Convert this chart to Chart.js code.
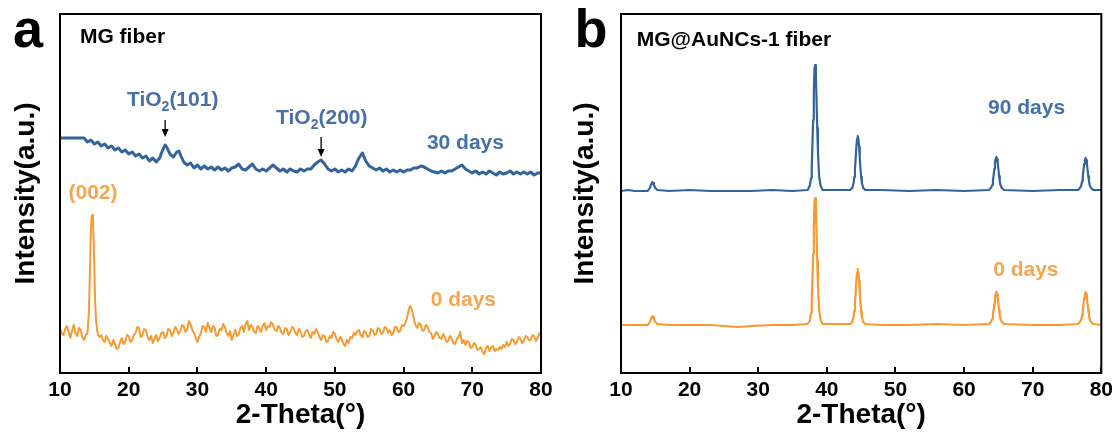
<!DOCTYPE html>
<html><head><meta charset="utf-8">
<script src="https://cdn.jsdelivr.net/npm/chart.js@4.4.0/dist/chart.umd.min.js"></script>
<style>
html,body{margin:0;padding:0;background:#fff;width:1118px;height:436px;overflow:hidden}
.p{position:absolute;top:0;width:559px;height:436px}
</style></head><body>
<div class="p" style="left:0"><canvas id="ca" width="559" height="436"></canvas></div>
<div class="p" style="left:559px"><canvas id="cb" width="559" height="436"></canvas></div>
<script>
// ---------- data (2-Theta in degrees, intensity in arbitrary units) ----------
const xTickValues = [10, 20, 30, 40, 50, 60, 70, 80];

// panel a, MG fiber, 30 days
const aTheta30 = [10,13.5,14,14.5,15,15.5,16,16.5,17,17.5,18,18.5,19,19.5,20,20.5,21,21.5,22,22.5,23,23.5,24,24.5,25,25.3,25.6,26,26.5,27,27.3,27.6,28,28.5,29,29.5,30,30.5,31,31.5,32,32.5,33,33.5,34,34.5,35,35.5,36,36.5,37,37.5,38,38.5,39,39.5,40,40.5,41,41.5,42,42.5,43,43.5,44,44.5,45,45.5,46,46.5,47,47.5,48,48.5,49,49.5,50,50.5,51,51.5,52,52.5,53,53.5,54,54.5,55,55.5,56,56.5,57,57.5,58,58.5,59,59.5,60,60.5,61,61.5,62,62.5,63,63.5,64,64.5,65,65.5,66,66.5,67,67.5,68,68.5,69,69.5,70,70.5,71,71.5,72,72.5,73,73.5,74,74.5,75,75.5,76,76.5,77,77.5,78,78.5,79,79.5,80];
const aInt30 = [235,235,231,233,229,231,227,229,225,227,223,225,221,223,219,221,217,219,215,217,212,215,211,215,224,228,225,219,216,221,222,217,211,208,210,205,208,204,207,204,206,203,206,203,205,202,205,206,209,204,203,206,209,204,202,204,202,205,208,205,202,204,201,204,202,201,204,202,204,204,208,211,213,209,204,202,204,201,203,201,204,202,207,215,220,212,207,205,203,205,202,204,201,203,201,203,201,203,203,205,205,207,206,204,202,201,200,202,200,202,202,204,206,208,204,202,200,202,199,201,199,202,200,198,201,199,200,202,199,201,199,201,199,201,198,200,200,199,199];

// panel a, MG fiber, 0 days
const aTheta0 = [
  10,10.25,10.5,10.75, 11,11.25,11.5,11.75, 12,12.25,12.5,12.75, 13,13.25,13.5,13.75,
  14,14.2,14.35,14.5,14.6,14.7,14.8,14.9,15,15.1,15.25,15.4,15.55,15.75,
  16,16.25,16.5,16.75, 17,17.25,17.5,17.75, 18,18.25,18.5,18.75, 19,19.25,19.5,19.75,
  20,20.25,20.5,20.75, 21,21.25,21.5,21.75, 22,22.25,22.5,22.75, 23,23.25,23.5,23.75,
  24,24.25,24.5,24.75, 25,25.25,25.5,25.75, 26,26.25,26.5,26.75, 27,27.25,27.5,27.75,
  28,28.25,28.5,28.75, 29,29.25,29.5,29.75, 30,30.25,30.5,30.75, 31,31.25,31.5,31.75,
  32,32.25,32.5,32.75, 33,33.25,33.5,33.75, 34,34.25,34.5,34.75, 35,35.25,35.5,35.75,
  36,36.25,36.5,36.75, 37,37.25,37.5,37.75, 38,38.25,38.5,38.75, 39,39.25,39.5,39.75,
  40,40.25,40.5,40.75, 41,41.25,41.5,41.75, 42,42.25,42.5,42.75, 43,43.25,43.5,43.75,
  44,44.25,44.5,44.75, 45,45.25,45.5,45.75, 46,46.25,46.5,46.75, 47,47.25,47.5,47.75,
  48,48.25,48.5,48.75, 49,49.25,49.5,49.75, 50,50.25,50.5,50.75, 51,51.25,51.5,51.75,
  52,52.25,52.5,52.75, 53,53.25,53.5,53.75, 54,54.25,54.5,54.75, 55,55.25,55.5,55.75,
  56,56.25,56.5,56.75, 57,57.25,57.5,57.75, 58,58.25,58.5,58.75, 59,59.25,59.5,59.75,
  60,60.25,60.5,60.8,61,61.3,61.6,61.8,62,62.25,62.5,62.75,
  63,63.25,63.5,63.75, 64,64.25,64.5,64.75, 65,65.25,65.5,65.75, 66,66.25,66.5,66.75,
  67,67.25,67.5,67.75, 68,68.25,68.5,68.75, 69,69.25,69.5,69.75, 70,70.25,70.5,70.75,
  71,71.25,71.5,71.75, 72,72.25,72.5,72.75, 73,73.25,73.5,73.75, 74,74.25,74.5,74.75,
  75,75.25,75.5,75.75, 76,76.25,76.5,76.75, 77,77.25,77.5,77.75, 78,78.25,78.5,78.75,
  79,79.25,79.5,79.75, 80];
const aInt0 = [
  45,40,38,44, 47,41,35,42, 48,40,37,45, 43,36,33,38,
  40,60,100,143,156,158,150,133,105,73,52,43,38,36,
  38,33,31,37, 34,30,27,33, 29,24,25,31, 35,29,31,38,
  37,31,33,38, 40,46,45,36, 38,44,43,36, 33,37,30,34,
  38,32,35,40, 41,35,37,44, 43,37,40,46, 44,39,42,48,
  47,41,43,52, 49,43,40,35, 31,36,40,47, 46,41,50,45,
  41,47,45,37, 38,44,43,49, 46,40,37,42, 33,38,43,37,
  39,45,47,41, 49,52,43,48, 46,41,40,47, 45,41,47,50,
  43,47,46,51, 48,43,42,47, 45,40,39,45, 44,38,41,46,
  45,40,38,44, 42,36,37,42, 43,38,35,41, 39,44,41,36,
  33,38,37,31, 32,37,35,41, 39,34,31,36, 34,29,27,33,
  30,36,35,40, 38,42,43,38, 36,42,41,36, 37,44,43,38,
  39,45,44,39, 40,46,45,40, 43,38,40,46, 46,41,42,48,
  47,50,55,65,67,61,51,47,45,50,48,42,
  43,48,46,41, 40,34,37,41, 39,35,34,39, 36,31,32,37,
  34,30,29,34, 36,41,30,33, 28,32,31,25, 26,30,28,23,
  24,26,21,19, 25,27,22,26, 27,22,24,23, 26,24,28,26,
  31,27,29,34, 33,29,31,36, 34,30,32,37, 36,33,33,38,
  37,32,35,40, 38];

// panel b, MG@AuNCs-1 fiber (shared 2-Theta grid)
const bTheta = [10,11,12,13,13.9,14.2,14.4,14.5,14.6,14.7,14.8,15,15.3,17,20,23,25,27,29,32,35,
  37.2,37.5,37.7,37.8,37.9,38,38.1,38.2,38.3,38.4,38.5,38.6,38.7,38.8,38.9,39.1,39.4,41,
  43.4,43.7,43.9,44,44.1,44.2,44.3,44.4,44.5,44.6,44.7,44.8,44.9,45,45.1,45.3,45.6,48,52,56,60,
  63.6,63.9,64.1,64.2,64.3,64.4,64.5,64.6,64.7,64.8,64.9,65,65.1,65.2,65.3,65.5,65.8,70,74,
  76.6,76.9,77.1,77.2,77.3,77.4,77.5,77.6,77.7,77.8,77.9,78,78.1,78.2,78.3,78.5,78.8,80];
const bInt90 = [182,183,182,182,182,185,189,190,191,190,188,185,183,182,183,182,182,182,182,183,182,
  183,187,195,206,229,253,280,305,308,297,272,245,222,206,195,187,183,183,
  183,185,190,196,204,215,226,234,237,234,226,215,204,196,190,185,183,183,182,183,182,
  183,185,188,192,197,204,210,214,216,214,210,204,197,192,188,185,183,182,183,
  183,185,188,192,197,203,209,213,215,213,209,203,197,192,188,185,183,183];
const bInt0 = [48,48,48,48,48,51,55,56,57,56,54,51,49,48,48,48,47,46,47,48,48,
  49,52,60,72,95,119,146,171,175,164,139,112,89,73,62,53,49,49,
  49,51,56,62,70,81,92,100,104,100,92,81,70,62,56,51,49,48,48,49,48,
  49,51,54,58,63,69,75,79,81,79,75,69,63,58,54,51,49,48,48,
  49,51,54,58,63,69,75,79,81,79,75,69,63,58,54,51,49,48];

// ---------- styling ----------
const FONT = '"Liberation Sans", Arial, Helvetica, sans-serif';
const BLUE_LINE = '#33639c', BLUE_TEXT = '#4571a8';
const ORANGE_LINE = '#f79b31', ORANGE_TEXT = '#f6a64f';

function pts(xs, ys) { return xs.map((x, i) => ({x: x, y: ys[i]})); }

function decoPlugin(letter, letterX, notes) {
  return {
    id: 'deco',
    afterDatasetsDraw(chart) {
      const ctx = chart.ctx, a = chart.chartArea, sx = chart.scales.x, sy = chart.scales.y;
      ctx.save();
      ctx.strokeStyle = '#000'; ctx.lineWidth = 2;
      ctx.strokeRect(a.left, a.top, a.right - a.left, a.bottom - a.top);
      xTickValues.forEach(v => {
        const px = Math.round(sx.getPixelForValue(v));
        ctx.beginPath(); ctx.moveTo(px, a.bottom); ctx.lineTo(px, a.bottom - 6); ctx.stroke();
      });
      ctx.fillStyle = '#000'; ctx.font = 'bold 54px ' + FONT;
      ctx.textAlign = 'center'; ctx.textBaseline = 'alphabetic';
      ctx.fillText(letter, letterX, 47);
      notes.forEach(n => {
        const px = sx.getPixelForValue(n.t), py = sy.getPixelForValue(n.h);
        if (n.arrow) {
          const py2 = sy.getPixelForValue(n.h2);
          ctx.strokeStyle = '#000'; ctx.fillStyle = '#000'; ctx.lineWidth = 1.3;
          ctx.beginPath(); ctx.moveTo(px, py); ctx.lineTo(px, py2 - 6); ctx.stroke();
          ctx.beginPath(); ctx.moveTo(px - 3.5, py2 - 8); ctx.lineTo(px + 3.5, py2 - 8); ctx.lineTo(px, py2); ctx.closePath(); ctx.fill();
          return;
        }
        ctx.fillStyle = n.color; ctx.textBaseline = 'middle';
        ctx.font = 'bold 21px ' + FONT;
        if (n.sub) {
          const p1 = n.sub[0], p2 = n.sub[1], p3 = n.sub[2];
          const w1 = ctx.measureText(p1).width, w3 = ctx.measureText(p3).width;
          ctx.font = 'bold 14px ' + FONT;
          const w2 = ctx.measureText(p2).width;
          const x0 = px - (w1 + w2 + w3) / 2;
          ctx.textAlign = 'left';
          ctx.font = 'bold 21px ' + FONT; ctx.fillText(p1, x0, py);
          ctx.font = 'bold 14px ' + FONT; ctx.fillText(p2, x0 + w1, py + 7);
          ctx.font = 'bold 21px ' + FONT; ctx.fillText(p3, x0 + w1 + w2, py);
        } else {
          ctx.textAlign = n.align || 'center';
          ctx.fillText(n.text, px, py);
        }
      });
      ctx.restore();
    }
  };
}

function makeChart(id, datasets, yWidth, padRight, plugin) {
  return new Chart(document.getElementById(id), {
    type: 'line',
    data: { datasets: datasets },
    options: {
      responsive: false, animation: false, devicePixelRatio: 1,
      layout: { padding: { top: 14, right: padRight, bottom: 0, left: 0 } },
      plugins: { legend: { display: false }, tooltip: { enabled: false } },
      elements: { point: { radius: 0 }, line: { tension: 0, borderJoinStyle: 'round', borderCapStyle: 'round' } },
      scales: {
        x: {
          type: 'linear', min: 10, max: 80,
          afterBuildTicks: s => { s.ticks = xTickValues.map(v => ({value: v})); },
          ticks: { color: '#000', font: { family: FONT, size: 21, weight: 'bold' }, padding: 5, maxRotation: 0 },
          grid: { display: false, drawTicks: false },
          border: { display: false },
          title: { display: true, text: '2-Theta(°)', color: '#000', font: { family: FONT, size: 28, weight: 'bold', lineHeight: 1 }, padding: { top: 0, bottom: 7 } },
          afterFit: s => { s.height = 63; }
        },
        y: {
          min: 0, max: 359,
          ticks: { display: false },
          grid: { display: false, drawTicks: false },
          border: { display: false },
          title: { display: true, text: 'Intensity(a.u.)', color: '#000', font: { family: FONT, size: 28, weight: 'bold', lineHeight: 1 }, padding: { top: 12, bottom: 0 } },
          afterFit: s => { s.width = yWidth; }
        }
      }
    },
    plugins: [plugin]
  });
}

makeChart('ca', [
  { data: pts(aTheta30, aInt30), borderColor: BLUE_LINE, borderWidth: 3 },
  { data: pts(aTheta0, aInt0), borderColor: ORANGE_LINE, borderWidth: 2 }
], 60, 18, decoPlugin('a', 28, [
  { text: 'MG fiber', t: 12.9, h: 336, color: '#000', align: 'left' },
  { sub: ['TiO', '2', '(101)'], t: 26.4, h: 273, color: BLUE_TEXT },
  { arrow: true, t: 25.3, h: 253, h2: 236 },
  { sub: ['TiO', '2', '(200)'], t: 48.1, h: 255, color: BLUE_TEXT },
  { arrow: true, t: 48.0, h: 236, h2: 216 },
  { text: '30 days', t: 69.0, h: 230, color: BLUE_TEXT },
  { text: '(002)', t: 14.8, h: 180, color: ORANGE_TEXT },
  { text: '0 days', t: 68.7, h: 73, color: ORANGE_TEXT }
]));

makeChart('cb', [
  { data: pts(bTheta, bInt90), borderColor: BLUE_LINE, borderWidth: 2.2 },
  { data: pts(bTheta, bInt0), borderColor: ORANGE_LINE, borderWidth: 2.2 }
], 62, 16, decoPlugin('b', 32, [
  { text: 'MG@AuNCs-1 fiber', t: 12.3, h: 333, color: '#000', align: 'left' },
  { text: '90 days', t: 69.1, h: 265, color: BLUE_TEXT },
  { text: '0 days', t: 69.0, h: 103, color: ORANGE_TEXT }
]));
</script>
</body></html>
